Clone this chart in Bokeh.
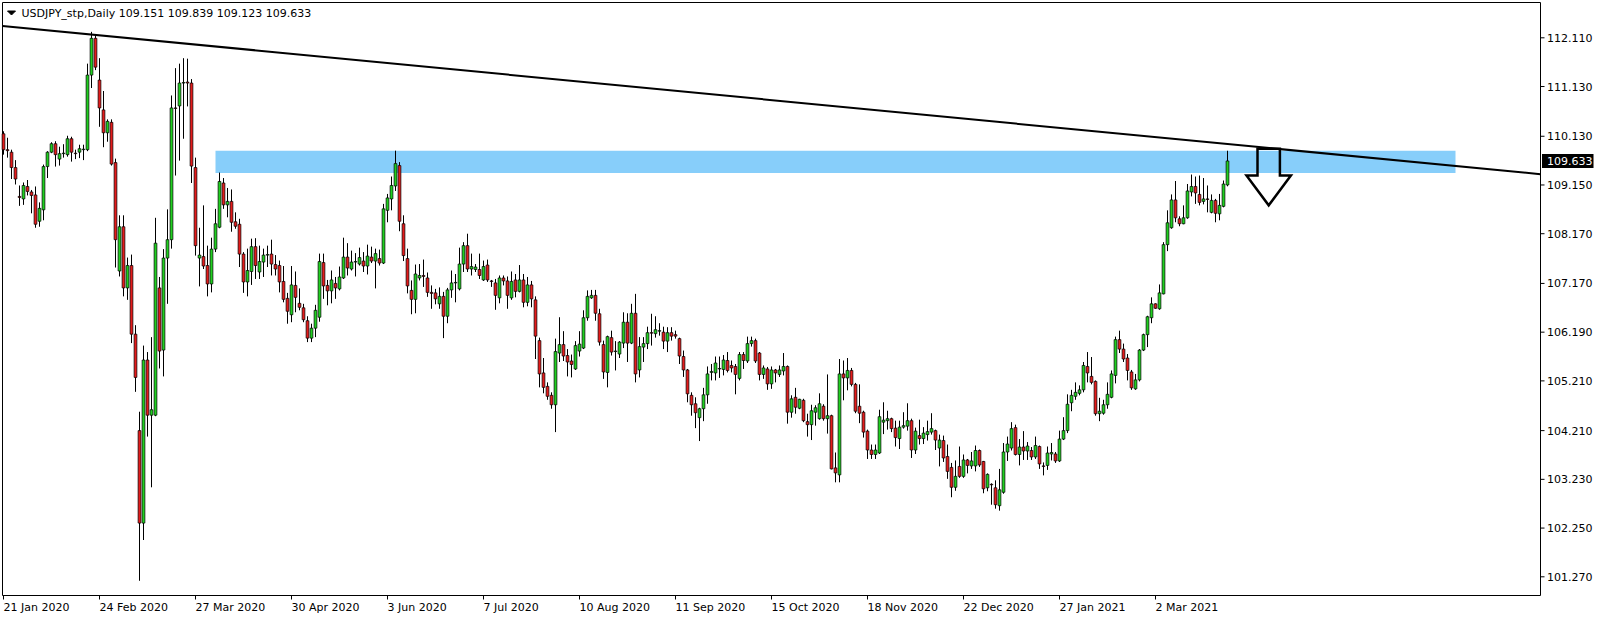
import numpy as np
from bokeh.plotting import figure
from bokeh.models import Range1d, ColumnDataSource
from bokeh.core.properties import value
from bokeh.embed import file_html
from bokeh.resources import INLINE

symbol = "USDJPY_stp,Daily"

open_ = [
    110.18, 109.86, 109.81, 109.50, 108.92, 108.87, 109.12, 109.01, 108.95, 108.42,
    108.65, 109.52, 109.81, 109.98, 109.67, 109.78, 109.76, 110.08, 109.79, 109.81,
    109.86, 109.86, 111.36, 112.10, 111.26, 110.66, 110.20, 110.41, 109.60, 107.42,
    108.31, 107.08, 107.53, 106.15, 104.21, 102.35, 105.63, 104.52, 104.52, 107.08,
    105.83, 107.68, 108.05, 110.70, 110.74, 111.20, 111.22, 111.20, 109.50, 107.68,
    107.71, 107.53, 107.16, 107.86, 108.30, 109.19, 108.75, 108.82, 108.41, 108.36,
    107.76, 107.20, 107.41, 107.91, 107.40, 107.60, 107.74, 107.76, 107.55, 107.53,
    107.21, 106.87, 106.54, 107.13, 106.77, 106.68, 106.42, 106.07, 106.27, 106.49,
    107.59, 107.13, 107.02, 107.17, 107.06, 107.28, 107.70, 107.46, 107.60, 107.56,
    107.62, 107.52, 107.70, 107.62, 107.67, 107.58, 108.64, 108.87, 109.13, 109.54,
    108.37, 107.67, 107.03, 106.85, 107.28, 107.33, 107.28, 106.99, 106.98, 106.76,
    106.91, 106.51, 107.04, 107.18, 107.06, 107.56, 107.93, 107.46, 107.45, 107.45,
    107.24, 107.54, 107.22, 107.18, 106.88, 107.28, 107.22, 106.88, 107.24, 107.01,
    107.24, 106.79, 107.14, 106.84, 106.02, 105.37, 105.10, 104.92, 104.73, 105.77,
    105.94, 105.72, 105.61, 105.45, 105.81, 105.87, 106.48, 106.88, 106.93, 106.56,
    105.94, 105.38, 106.08, 105.80, 105.75, 105.97, 106.39, 105.97, 106.57, 105.43,
    105.89, 105.96, 106.18, 106.16, 106.21, 106.19, 106.01, 106.18, 106.14, 106.06,
    105.70, 105.43, 104.92, 104.75, 104.47, 104.65, 104.93, 105.38, 105.37, 105.45,
    105.44, 105.62, 105.52, 105.50, 105.26, 105.74, 105.61, 105.96, 106.02, 105.77,
    105.34, 105.45, 105.15, 105.43, 105.34, 105.41, 105.50, 104.58, 104.88, 104.66,
    104.82, 104.39, 104.33, 104.58, 104.45, 104.70, 104.45, 104.51, 103.46, 103.32,
    105.35, 105.27, 105.42, 105.14, 104.70, 104.58, 104.20, 103.82, 103.73, 103.76,
    104.38, 104.41, 104.45, 104.26, 104.05, 104.28, 104.30, 104.41, 103.82, 104.11,
    104.05, 104.13, 104.18, 104.21, 103.86, 104.01, 103.69, 103.47, 103.07, 103.49,
    103.29, 103.62, 103.50, 103.50, 103.81, 103.59, 103.06, 103.13, 103.06, 102.70,
    102.97, 103.78, 103.86, 104.27, 103.73, 103.88, 103.80, 103.81, 103.68, 103.89,
    103.50, 103.51, 103.74, 103.74, 103.60, 104.04, 104.21, 104.77, 104.90, 104.96,
    105.03, 105.50, 105.30, 105.20, 104.55, 104.56, 104.73, 104.88, 105.32, 106.04,
    105.85, 105.67, 105.39, 105.05, 105.23, 105.83, 106.14, 106.48, 106.76, 106.66,
    106.96, 107.95, 108.29, 108.85, 108.47, 108.37, 108.49, 109.01, 109.12, 108.96,
    108.82, 108.87, 108.60, 108.84, 108.57, 108.72, 109.151,
]

high = [
    110.23, 110.10, 109.86, 109.65, 109.14, 109.20, 109.25, 109.05, 109.12, 108.80,
    109.56, 109.83, 110.01, 110.03, 109.92, 109.97, 110.14, 110.12, 109.86, 109.96,
    109.96, 111.59, 112.23, 112.17, 111.70, 111.04, 110.47, 110.47, 109.68, 108.54,
    108.54, 107.69, 107.75, 106.33, 104.59, 105.92, 105.79, 106.09, 108.49, 107.30,
    107.86, 108.66, 110.95, 111.50, 111.59, 111.70, 111.69, 111.28, 109.70, 108.29,
    108.74, 107.93, 108.09, 108.67, 109.40, 109.29, 109.09, 109.06, 108.60, 108.47,
    107.80, 107.87, 108.07, 108.08, 107.93, 107.87, 107.93, 108.05, 107.74, 107.63,
    107.52, 106.98, 107.52, 107.41, 107.07, 106.76, 106.51, 106.36, 106.74, 107.77,
    107.77, 107.24, 107.43, 107.30, 107.51, 108.09, 107.98, 107.83, 107.78, 107.89,
    107.80, 107.95, 107.91, 107.87, 107.85, 108.77, 108.97, 109.32, 109.84, 109.61,
    108.54, 107.87, 107.23, 107.55, 107.56, 107.65, 107.39, 107.13, 107.06, 107.09,
    107.00, 107.08, 107.43, 107.36, 107.89, 108.00, 108.17, 107.77, 107.56, 107.77,
    107.63, 107.65, 107.24, 107.26, 107.33, 107.33, 107.31, 107.41, 107.36, 107.54,
    107.36, 107.30, 107.22, 106.91, 106.08, 105.67, 105.18, 104.98, 106.06, 106.49,
    106.21, 105.85, 105.74, 106.01, 106.21, 106.63, 107.03, 107.04, 107.04, 106.66,
    106.02, 106.12, 106.22, 106.01, 106.01, 106.59, 106.57, 106.76, 106.96, 106.09,
    106.09, 106.30, 106.56, 106.51, 106.37, 106.30, 106.29, 106.29, 106.22, 106.08,
    105.82, 105.45, 104.98, 104.88, 104.67, 105.07, 105.50, 105.55, 105.70, 105.70,
    105.73, 105.79, 105.62, 105.55, 105.79, 105.79, 106.10, 106.10, 106.06, 105.79,
    105.52, 105.49, 105.50, 105.45, 105.52, 105.77, 105.52, 104.92, 105.07, 104.85,
    104.85, 104.55, 104.73, 104.72, 104.96, 104.74, 105.34, 104.53, 103.77, 105.65,
    105.62, 105.67, 105.47, 105.17, 105.14, 104.61, 104.23, 103.93, 103.93, 104.63,
    104.78, 104.61, 104.47, 104.41, 104.41, 104.58, 104.76, 104.45, 104.27, 104.43,
    104.28, 104.41, 104.56, 104.23, 104.13, 104.11, 103.93, 103.56, 103.61, 103.89,
    103.73, 103.64, 103.78, 103.91, 103.83, 103.60, 103.35, 103.15, 103.21, 103.44,
    103.96, 104.09, 104.38, 104.33, 104.04, 104.20, 103.98, 103.88, 104.09, 103.91,
    103.57, 103.89, 103.96, 103.78, 104.21, 104.48, 104.94, 105.03, 105.18, 105.12,
    105.59, 105.79, 105.69, 105.22, 104.87, 104.83, 105.18, 105.42, 106.10, 106.22,
    105.96, 105.75, 105.43, 105.35, 105.85, 106.16, 106.52, 106.89, 106.77, 107.15,
    108.00, 108.64, 108.96, 109.23, 108.52, 108.74, 109.17, 109.36, 109.32, 109.34,
    109.29, 109.14, 108.96, 108.87, 108.97, 109.24, 109.839,
]

low = [
    109.76, 109.70, 109.27, 109.16, 108.73, 108.75, 108.94, 108.58, 108.29, 108.31,
    108.44, 109.29, 109.79, 109.52, 109.54, 109.70, 109.72, 109.62, 109.67, 109.69,
    109.65, 109.83, 111.10, 111.46, 110.32, 109.91, 110.02, 109.54, 107.49, 107.31,
    106.91, 106.84, 105.97, 104.99, 101.19, 102.01, 104.09, 103.07, 104.50, 105.46,
    105.30, 106.76, 107.87, 109.34, 109.64, 110.08, 110.73, 109.19, 107.73, 107.11,
    107.46, 106.91, 106.99, 107.80, 108.28, 108.67, 108.50, 108.21, 108.27, 107.50,
    106.98, 106.91, 107.14, 107.26, 107.26, 107.30, 107.50, 107.33, 107.33, 106.99,
    106.79, 106.36, 106.39, 106.59, 106.63, 106.39, 105.99, 105.99, 106.09, 106.40,
    106.86, 106.73, 106.77, 106.86, 107.03, 107.26, 107.33, 107.43, 107.31, 107.53,
    107.40, 107.35, 107.58, 107.07, 107.53, 107.56, 108.40, 108.64, 109.03, 108.22,
    107.62, 106.97, 106.55, 106.57, 107.23, 107.10, 106.90, 106.66, 106.75, 106.66,
    106.07, 106.37, 106.88, 106.79, 107.03, 107.40, 107.40, 107.33, 107.40, 107.26,
    107.22, 107.20, 107.10, 106.64, 106.77, 107.13, 106.66, 106.84, 106.89, 106.99,
    106.69, 106.71, 106.69, 105.65, 105.08, 104.96, 104.83, 104.65, 104.18, 105.59,
    105.61, 105.30, 105.28, 105.43, 105.70, 105.85, 106.42, 106.86, 106.42, 105.92,
    105.25, 105.08, 105.72, 105.42, 105.67, 105.87, 105.59, 105.95, 105.18, 105.28,
    105.59, 105.85, 105.92, 106.08, 106.12, 105.85, 105.79, 106.02, 106.06, 105.55,
    105.29, 104.78, 104.51, 104.26, 104.00, 104.40, 104.75, 105.22, 105.22, 105.27,
    105.32, 105.38, 105.38, 104.94, 105.22, 105.45, 105.57, 105.90, 105.57, 105.22,
    105.25, 105.03, 105.05, 105.18, 105.29, 105.32, 104.35, 104.47, 104.55, 104.64,
    104.38, 104.09, 104.02, 104.31, 104.43, 104.41, 104.15, 103.43, 103.17, 103.17,
    104.82, 105.02, 105.10, 104.56, 104.36, 104.07, 103.64, 103.64, 103.64, 103.74,
    104.14, 104.23, 104.18, 103.89, 103.84, 104.25, 104.21, 103.66, 103.74, 103.93,
    103.94, 104.01, 104.13, 103.82, 103.49, 103.58, 103.24, 102.87, 103.00, 103.26,
    103.26, 103.35, 103.44, 103.39, 103.48, 102.95, 102.99, 102.72, 102.64, 102.60,
    102.94, 103.60, 103.81, 103.71, 103.51, 103.62, 103.62, 103.62, 103.64, 103.44,
    103.31, 103.42, 103.61, 103.56, 103.58, 104.02, 104.16, 104.60, 104.83, 104.92,
    104.98, 105.18, 105.14, 104.51, 104.40, 104.53, 104.65, 104.86, 105.16, 105.77,
    105.59, 105.22, 105.03, 105.03, 105.20, 105.81, 105.89, 106.37, 106.66, 106.64,
    106.95, 107.82, 108.27, 108.40, 108.32, 108.36, 108.47, 108.92, 108.77, 108.74,
    108.76, 108.60, 108.58, 108.40, 108.44, 108.70, 109.123,
]

close = [
    109.86, 109.84, 109.50, 109.27, 108.90, 109.14, 109.02, 108.94, 108.36, 108.68,
    109.52, 109.81, 109.98, 109.76, 109.78, 109.79, 110.08, 109.81, 109.78, 109.88,
    109.87, 111.36, 112.10, 111.52, 110.70, 110.20, 110.43, 109.57, 108.05, 108.31,
    107.08, 107.53, 106.15, 105.28, 102.35, 105.63, 104.52, 104.63, 107.98, 105.81,
    107.68, 108.05, 110.70, 110.69, 111.20, 111.21, 111.20, 109.53, 107.93, 107.74,
    107.52, 107.16, 107.86, 108.37, 109.22, 108.75, 108.82, 108.40, 108.32, 107.76,
    107.20, 107.43, 107.91, 107.53, 107.61, 107.74, 107.75, 107.56, 107.46, 107.20,
    106.85, 106.61, 107.14, 106.89, 106.69, 106.44, 106.07, 106.27, 106.63, 107.61,
    107.12, 107.02, 107.24, 107.08, 107.30, 107.70, 107.48, 107.60, 107.61, 107.69,
    107.52, 107.72, 107.62, 107.77, 107.58, 108.67, 108.89, 109.14, 109.58, 108.42,
    107.73, 107.12, 106.85, 107.36, 107.33, 107.31, 106.99, 106.97, 106.86, 106.91,
    106.51, 107.04, 107.18, 107.19, 107.56, 107.93, 107.46, 107.51, 107.50, 107.33,
    107.51, 107.24, 107.21, 106.93, 107.28, 107.22, 106.93, 107.21, 107.01, 107.24,
    106.79, 107.14, 106.86, 106.11, 105.35, 105.08, 104.90, 104.73, 105.80, 105.94,
    105.71, 105.59, 105.54, 105.92, 105.95, 106.48, 106.91, 106.93, 106.57, 105.99,
    105.39, 106.10, 105.79, 105.81, 105.99, 106.39, 105.97, 106.57, 105.35, 105.90,
    105.96, 106.18, 106.17, 106.24, 106.22, 106.01, 106.18, 106.11, 106.11, 105.71,
    105.43, 104.95, 104.73, 104.57, 104.65, 104.93, 105.35, 105.40, 105.57, 105.46,
    105.63, 105.42, 105.47, 105.34, 105.74, 105.62, 105.96, 106.02, 105.61, 105.34,
    105.47, 105.15, 105.43, 105.37, 105.43, 105.50, 104.58, 104.85, 104.68, 104.84,
    104.41, 104.33, 104.61, 104.67, 104.75, 104.45, 104.51, 103.44, 103.36, 105.35,
    105.27, 105.42, 105.14, 104.60, 104.56, 104.18, 103.82, 103.73, 103.82, 104.49,
    104.42, 104.45, 104.25, 104.07, 104.28, 104.31, 104.41, 103.82, 104.20, 104.05,
    104.16, 104.19, 104.25, 104.02, 104.02, 103.66, 103.39, 103.07, 103.29, 103.29,
    103.62, 103.51, 103.60, 103.81, 103.52, 103.04, 103.33, 103.12, 102.72, 103.02,
    103.78, 103.94, 104.25, 103.73, 103.88, 103.80, 103.90, 103.68, 103.91, 103.54,
    103.49, 103.76, 103.77, 103.60, 104.04, 104.21, 104.74, 104.92, 104.98, 105.03,
    105.52, 105.37, 105.18, 104.55, 104.60, 104.73, 104.94, 105.35, 106.04, 105.85,
    105.65, 105.42, 105.07, 105.23, 105.83, 106.14, 106.50, 106.76, 106.67, 106.98,
    107.95, 108.39, 108.85, 108.49, 108.37, 108.49, 109.03, 109.12, 108.99, 108.80,
    108.87, 108.86, 108.84, 108.58, 108.74, 109.17, 109.633,
]

# x-axis: one label every 24 bars
date_tick_bars = [0, 24, 48, 72, 96, 120, 144, 168, 192, 216, 240, 264, 288]
date_tick_labels = ["21 Jan 2020", "24 Feb 2020", "27 Mar 2020", "30 Apr 2020",
                    "3 Jun 2020", "7 Jul 2020", "10 Aug 2020", "11 Sep 2020",
                    "15 Oct 2020", "18 Nov 2020", "22 Dec 2020", "27 Jan 2021",
                    "2 Mar 2021"]
price_ticks = [112.110, 111.130, 110.130, 109.150, 108.170, 107.170,
               106.190, 105.210, 104.210, 103.230, 102.250, 101.270]

# drawn objects
zone_first_bar, zone_last_bar = 53, 363
zone_top, zone_bottom = 109.84, 109.39
trend_bars = [22, 316]
trend_prices = [112.176, 109.896]
arrow_bar = 316.3
arrow_top, arrow_neck, arrow_tip = 109.88, 109.34, 108.74
arrow_stem_half, arrow_head_half = 2.8, 5.55

# ---------------------------------------------------------------
BULL, BEAR = "#1FD01F", "#E41B1B"
FONT = value("DejaVu Sans")
FS = "11px"

o = np.array(open_); h = np.array(high); l = np.array(low); c = np.array(close)
h = np.maximum.reduce([h, o, c]); l = np.minimum.reduce([l, o, c])
n = len(c)
idx = np.arange(n)

# canvas / scale layout (MetaTrader-like: 4 px per bar)
W, H = 1604, 619
PX_PER_BAR = 4
BAR0_PX = 3.0                         # centre of first bar, px from left
FIRST_TICK_PX, LAST_TICK_PX = 37.3, 576.3
PRICE_PER_PX = (price_ticks[0] - price_ticks[-1]) / (LAST_TICK_PX - FIRST_TICK_PX)
x_start = -BAR0_PX / PX_PER_BAR
x_end = x_start + W / PX_PER_BAR
y_end = price_ticks[0] + FIRST_TICK_PX * PRICE_PER_PX
y_start = y_end - H * PRICE_PER_PX


def bx(px):      # horizontal canvas px -> bar units
    return x_start + px / PX_PER_BAR


def py(pix):     # vertical canvas px -> price units
    return y_end - pix * PRICE_PER_PX


BOX_L, BOX_R, BOX_T, BOX_B = 2, 1540, 2, 595

p = figure(width=W, height=H, x_range=Range1d(x_start, x_end),
           y_range=Range1d(y_start, y_end), output_backend="svg",
           toolbar_location=None, x_axis_location=None, y_axis_location=None,
           min_border=0, min_border_left=0, min_border_right=0,
           min_border_top=0, min_border_bottom=0)
p.background_fill_color = "white"
p.border_fill_color = "white"
p.outline_line_color = None
p.grid.visible = False

# support/resistance zone (background)
p.quad(left=[zone_first_bar], right=[zone_last_bar], top=[zone_top],
       bottom=[zone_bottom], fill_color="#87CEFA", line_color=None)

# chart border
p.quad(left=[bx(BOX_L)], right=[bx(BOX_R)], top=[py(BOX_T)], bottom=[py(BOX_B)],
       fill_color=None, line_color="black", line_width=1)

# candles
src = ColumnDataSource(dict(x=idx, o=o, h=h, l=l, c=c,
                            top=np.maximum(o, c), bottom=np.minimum(o, c),
                            color=np.where(c >= o, BULL, BEAR)))
p.segment(x0="x", y0="l", x1="x", y1="h", source=src, line_color="black",
          line_width=1)
p.vbar(x="x", width=0.7, top="top", bottom="bottom", source=src,
       fill_color="color", line_color="black", line_width=0.7)

# trend line extended across the chart box
slope = (trend_prices[1] - trend_prices[0]) / (trend_bars[1] - trend_bars[0])
tx = [bx(BOX_L), bx(BOX_R)]
ty = [trend_prices[0] + slope * (x - trend_bars[0]) for x in tx]
p.line(tx, ty, line_color="black", line_width=2)

# hollow down arrow
ax = [arrow_bar - arrow_stem_half, arrow_bar - arrow_stem_half,
      arrow_bar - arrow_head_half, arrow_bar, arrow_bar + arrow_head_half,
      arrow_bar + arrow_stem_half, arrow_bar + arrow_stem_half]
ay = [arrow_top, arrow_neck, arrow_neck, arrow_tip, arrow_neck,
      arrow_neck, arrow_top]
p.patch(ax, ay, fill_alpha=0, line_color="black", line_width=2.5,
        line_join="miter")

# price axis (right): ticks + labels
p.segment(x0=[bx(BOX_R)] * len(price_ticks), x1=[bx(BOX_R + 4)] * len(price_ticks),
          y0=price_ticks, y1=price_ticks, line_color="black", line_width=1)
p.text(x=[bx(BOX_R + 6.5)] * len(price_ticks), y=price_ticks,
       text=[f"{t:.3f}" for t in price_ticks], text_font=FONT,
       text_font_size=FS, text_color="black", text_align="left",
       text_baseline="middle")

# time axis (bottom): ticks + left-aligned labels
p.segment(x0=date_tick_bars, x1=date_tick_bars,
          y0=[py(BOX_B)] * len(date_tick_bars),
          y1=[py(BOX_B + 4)] * len(date_tick_bars),
          line_color="black", line_width=1)
p.text(x=date_tick_bars, y=[py(BOX_B + 5)] * len(date_tick_bars),
       text=date_tick_labels, text_font=FONT, text_font_size=FS,
       text_color="black", text_align="left", text_baseline="top")

# current price box on the price axis
p.quad(left=[bx(BOX_R + 1.5)], right=[bx(BOX_R + 53)],
       top=[c[-1] + 7 * PRICE_PER_PX], bottom=[c[-1] - 7 * PRICE_PER_PX],
       fill_color="black", line_color=None)
p.text(x=[bx(BOX_R + 6.5)], y=[c[-1]], text=[f"{c[-1]:.3f}"], text_font=FONT,
       text_font_size=FS, text_color="white", text_align="left",
       text_baseline="middle")

# header: small triangle + symbol/OHLC text
p.patch([bx(7), bx(15), bx(11)], [py(10.5), py(10.5), py(14.5)],
        fill_color="black", line_color="black", line_width=1)
title = f"{symbol}  {o[-1]:.3f} {h[-1]:.3f} {l[-1]:.3f} {c[-1]:.3f}"
p.text(x=[bx(21)], y=[py(13)], text=[title], text_font=FONT,
       text_font_size=FS, text_color="black", text_align="left",
       text_baseline="middle")

open("out.html", "w").write(file_html(p, INLINE, title="USDJPY Daily"))
